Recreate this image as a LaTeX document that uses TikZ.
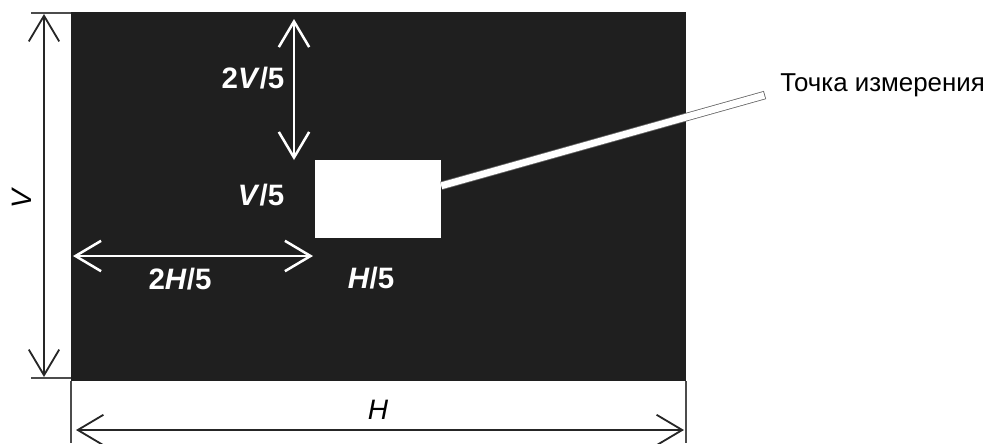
\documentclass[tikz,border=0pt]{standalone}
\usepackage{fontspec}
\setmainfont{Liberation Sans}
\usepackage{tikz}
\usetikzlibrary{positioning,arrows.meta}
\definecolor{screenblack}{HTML}{1F1F1F}
\tikzset{
  barbs/.style={{Straight Barb[length=0.64cm,width=0.76cm]}-{Straight Barb[length=0.64cm,width=0.76cm]}},
  dimline/.style={barbs,line width=1.3pt,draw=black!85},
  dimwhite/.style={barbs,line width=1.8pt,draw=white},
  extline/.style={line width=0.8pt,draw=black!70},
  inlabel/.style={text=white,inner sep=0pt,font=\fontsize{21}{24}\selectfont\bfseries},
  outlabel/.style={inner sep=0pt,font=\fontsize{20}{24}\selectfont\itshape},
  spot/.style={fill=white,draw=none,inner sep=0pt,minimum width=3.15cm,minimum height=1.95cm},
  leaderedge/.style={line width=0.21cm,draw=black!60},
  leaderfill/.style={line width=0.17cm,draw=white,shorten >=0.6pt}
}

\begin{document}
\begin{tikzpicture}[x=0.025cm,y=-0.025cm]
      \useasboundingbox (0,0) rectangle (987,443);
      % screen and measuring spot
      \fill[screenblack] (71,12) rectangle (686,381);
      \node[spot] (spot) at (378,199) {};
      % leader to the caption
      \node[anchor=base west,inner sep=0pt,font=\fontsize{18.4}{22}\selectfont] (note) at (780,91) {Точка измерения};
      \coordinate (lead) at (765,95);
      \coordinate (foot) at ([yshift=0.33cm]spot.east);
      \draw[leaderedge] (foot) -- (lead);
      \draw[leaderfill] (foot) -- (lead);
      % dimension V
      \coordinate (vtop) at (44,14);
      \coordinate (vbot) at (44,377);
      \draw[extline] (31,13) -- (71,13);
      \draw[extline] (31,378) -- (71,378);
      \draw[dimline] (vtop) -- (vbot);
      \node[outlabel,rotate=90] (vlab) at (22,199) {V};
      % dimension H
      \coordinate (hleft) at (76,430);
      \coordinate (hright) at (684,430);
      \draw[extline] (71,381) -- (71,443);
      \draw[extline] (686,381) -- (686,443);
      \draw[dimline] (hleft) -- (hright);
      \node[outlabel] (hlab) at (378,410) {H};
      % position of the spot
      \coordinate (atop) at (294,19);
      \coordinate (abot) at (294,160);
      \draw[dimwhite] (atop) -- (abot);
      \coordinate (aleft) at (73,256);
      \coordinate (aright) at (313,256);
      \draw[dimwhite] (aleft) -- (aright);
      \node[inlabel] (twov) at (253,78) {2\textit{V}/5};
      \node[inlabel] (onev) at (261,195) {\textit{V}/5};
      \node[inlabel] (twoh) at (180,279) {2\textit{H}/5};
      \node[inlabel] (oneh) at (371,278) {\textit{H}/5};
    \end{tikzpicture}
\end{document}
